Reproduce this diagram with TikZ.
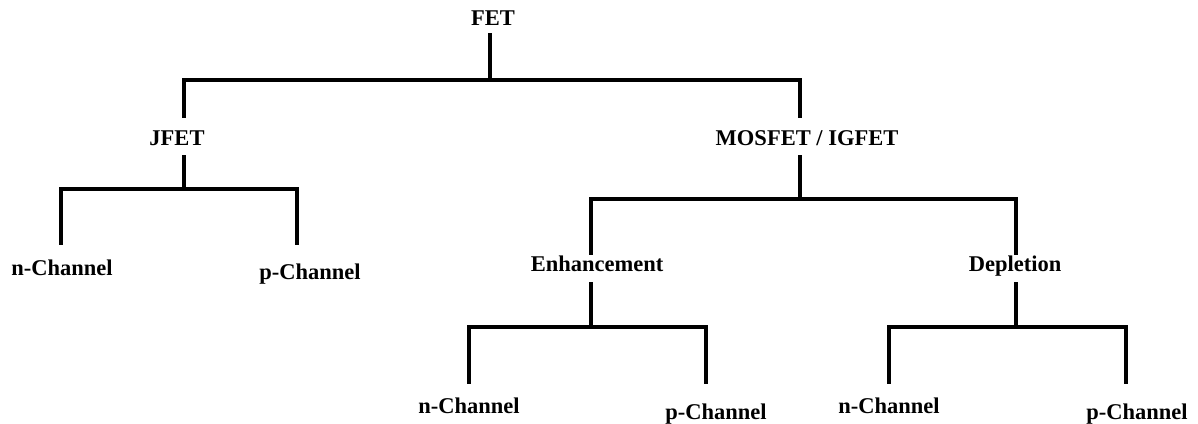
\documentclass[tikz,border=0pt]{standalone}
\usepackage{fontspec}
\setmainfont{Liberation Serif}
\begin{document}
\begin{tikzpicture}[x=1pt,y=-1pt,
  lab/.style={font=\fontsize{22.5}{27}\selectfont\bfseries, inner sep=0pt, text height=15pt, text depth=0pt, anchor=base},
  conn/.style={line width=4.6pt, line join=miter, line cap=butt}]
\useasboundingbox[fill=white] (0,0) rectangle (1198,423);
% nodes
\node[lab] (fet) at (493,25) {FET};
\node[lab] (jfet) at (177,145) {JFET};
\node[lab] (mos) at (807,145) {MOSFET / IGFET};
\node[lab] (n1) at (62,275) {n-Channel};
\node[lab] (p1) at (310,279) {p-Channel};
\node[lab] (enh) at (597,271) {Enhancement};
\node[lab] (dep) at (1015,271) {Depletion};
\node[lab] (n2) at (469,413) {n-Channel};
\node[lab] (p2) at (716,419) {p-Channel};
\node[lab] (n3) at (889,413) {n-Channel};
\node[lab] (p3) at (1137,419) {p-Channel};
% bar levels
\coordinate (bar1) at (490,80);
\coordinate (bar2) at (184,189);
\coordinate (bar3) at (800,199);
\coordinate (bar4) at (591,327);
\coordinate (bar5) at (1016,327);
% FET
\draw[conn] ([xshift=-3pt,yshift=-8pt]fet.south) -- ([xshift=-3pt]fet.south |- bar1);
\draw[conn] ([xshift=7pt,yshift=12pt]jfet.north) |- (bar1) -| ([xshift=-7pt,yshift=12pt]mos.north);
% JFET
\draw[conn] ([xshift=7pt,yshift=-10pt]jfet.south) -- ([xshift=7pt]jfet.south |- bar2);
\draw[conn] ([xshift=-1pt,yshift=15pt]n1.north) |- (bar2) -| ([xshift=-13pt,yshift=19pt]p1.north);
% MOSFET
\draw[conn] ([xshift=-7pt,yshift=-10pt]mos.south) -- ([xshift=-7pt]mos.south |- bar3);
\draw[conn] ([xshift=-6pt,yshift=1pt]enh.north) |- (bar3) -| ([xshift=1pt,yshift=1pt]dep.north);
% Enhancement
\draw[conn] ([xshift=-6pt,yshift=-11pt]enh.south) -- ([xshift=-6pt]enh.south |- bar4);
\draw[conn] ([yshift=14pt]n2.north) |- (bar4) -| ([xshift=-10pt,yshift=20pt]p2.north);
% Depletion
\draw[conn] ([xshift=1pt,yshift=-11pt]dep.south) -- ([xshift=1pt]dep.south |- bar5);
\draw[conn] ([xshift=0pt,yshift=14pt]n3.north) |- (bar5) -| ([xshift=-11pt,yshift=20pt]p3.north);
\end{tikzpicture}
\end{document}
